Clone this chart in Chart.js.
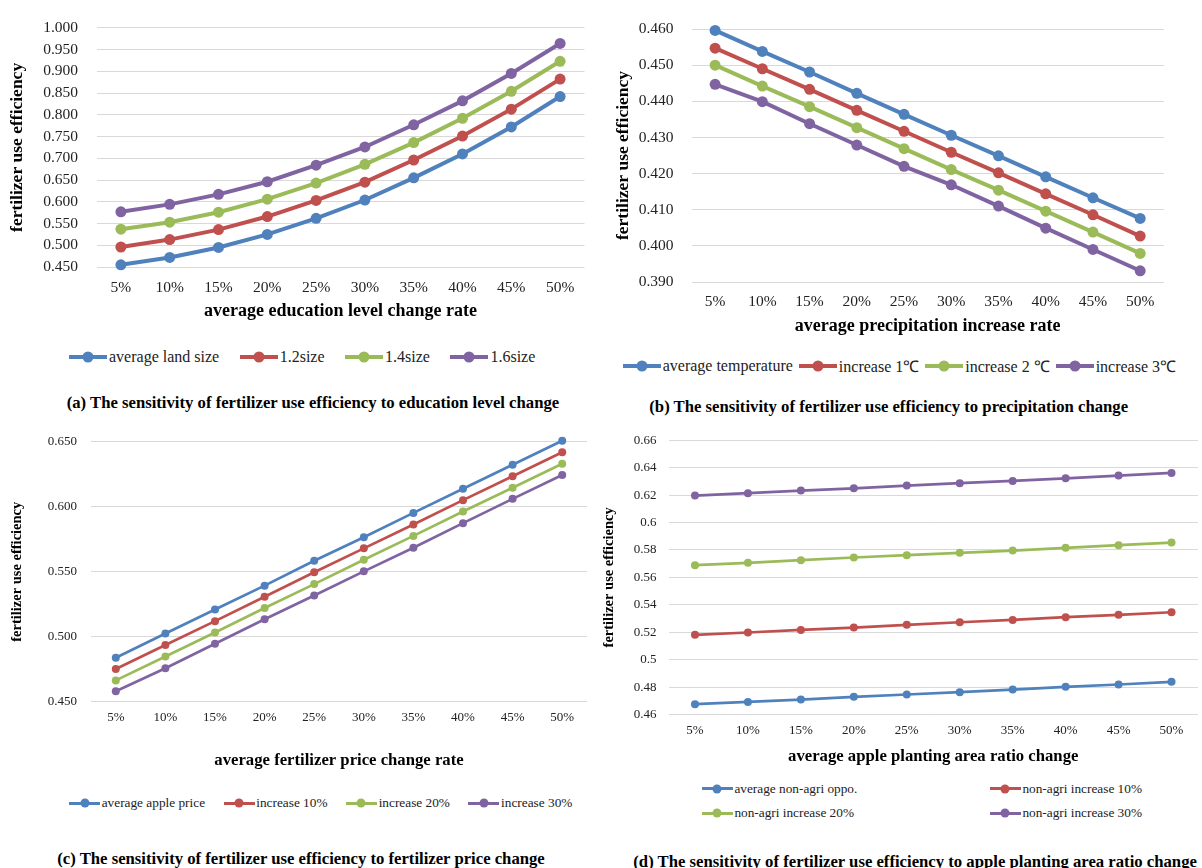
<!DOCTYPE html>
<html>
<head>
<meta charset="utf-8">
<script src="https://cdn.jsdelivr.net/npm/chart.js@4.4.1/dist/chart.umd.min.js"></script>
<style>
  html, body { margin: 0; padding: 0; background: #fff; }
  body { width: 1202px; height: 868px; position: relative; overflow: hidden;
         font-family: "Liberation Serif", "Times New Roman", serif; color: #000; }
  canvas { position: absolute; }
  .legend { position: absolute; display: flex; align-items: center; height: 20px; white-space: nowrap; color: #222; }
  .legend .item { display: flex; align-items: center; }
  .mk { display: inline-block; position: relative; flex: none; }
  .mk i { position: absolute; left: 50%; top: 50%; border-radius: 50%; transform: translate(-50%, -50%); }
  .legend.grid { display: grid; grid-template-columns: 288px 288px; grid-auto-rows: 20px; row-gap: 4.6px; height: auto; }
  .caption { position: absolute; font-weight: bold; white-space: nowrap; line-height: 1; font-size: 16.7px; }
</style>
</head>
<body>
<canvas id="chartA" width="600" height="330" style="left:0;top:0"></canvas>
<canvas id="chartB" width="602" height="345" style="left:600px;top:0"></canvas>
<canvas id="chartC" width="600" height="355" style="left:0;top:420px"></canvas>
<canvas id="chartD" width="602" height="350" style="left:600px;top:420px"></canvas>

<div id="legendA" class="legend" style="left:69px;top:347px;font-size:16px;gap:20.5px"></div>
<div id="legendB" class="legend" style="left:622.7px;top:356px;font-size:16px;gap:6px"></div>
<div id="legendC" class="legend" style="left:69px;top:793.3px;font-size:13.3px;gap:18.5px"></div>
<div id="legendD" class="legend grid" style="left:701.7px;top:778.7px;font-size:13.3px"></div>

<div class="caption" style="left:66.7px;top:394.5px">(a) The sensitivity of fertilizer use efficiency to education level change</div>
<div class="caption" style="left:649.3px;top:398.5px">(b) The sensitivity of fertilizer use efficiency to precipitation change</div>
<div class="caption" style="left:57.3px;top:851px">(c) The sensitivity of fertilizer use efficiency to fertilizer price change</div>
<div class="caption" style="left:633.3px;top:853.5px">(d) The sensitivity of fertilizer use efficiency to apple planting area ratio change</div>

<script>
const serif = '"Liberation Serif", "Times New Roman", serif';
Chart.defaults.font.family = serif;

const rates = ['5%', '10%', '15%', '20%', '25%', '30%', '35%', '40%', '45%', '50%'];
const colors = ['#4F81BD', '#C0504D', '#9BBB59', '#8064A2'];

// (a) education level
const landSize = [0.455, 0.472, 0.495, 0.525, 0.562, 0.604, 0.655, 0.710, 0.772, 0.842];
const size12   = [0.496, 0.513, 0.536, 0.566, 0.603, 0.645, 0.696, 0.751, 0.813, 0.882];
const size14   = [0.537, 0.553, 0.576, 0.606, 0.643, 0.686, 0.736, 0.792, 0.854, 0.923];
const size16   = [0.577, 0.594, 0.617, 0.646, 0.684, 0.726, 0.777, 0.832, 0.895, 0.964];
const namesA = ['average land size', '1.2size', '1.4size', '1.6size'];

// (b) precipitation
const avgTemp = [0.4596, 0.4538, 0.4481, 0.4422, 0.4364, 0.4306, 0.4249, 0.4191, 0.4133, 0.4076];
const temp1   = [0.4547, 0.4490, 0.4433, 0.4375, 0.4317, 0.4259, 0.4202, 0.4144, 0.4086, 0.4027];
const temp2   = [0.4500, 0.4442, 0.4385, 0.4327, 0.4269, 0.4211, 0.4154, 0.4096, 0.4038, 0.3979];
const temp3   = [0.4447, 0.4399, 0.4338, 0.4279, 0.4220, 0.4169, 0.4110, 0.4049, 0.3990, 0.3931];
const namesB = ['average temperature', 'increase 1\u2103', 'increase 2 \u2103', 'increase 3\u2103'];

// (c) fertilizer price
const applePrice = [0.4838, 0.5025, 0.5209, 0.5393, 0.5585, 0.5766, 0.5953, 0.6139, 0.6323, 0.6508];
const price10    = [0.4752, 0.4936, 0.5120, 0.5307, 0.5496, 0.5680, 0.5864, 0.6051, 0.6235, 0.6419];
const price20    = [0.4664, 0.4848, 0.5032, 0.5221, 0.5405, 0.5592, 0.5776, 0.5963, 0.6147, 0.6331];
const price30    = [0.4580, 0.4757, 0.4946, 0.5135, 0.5317, 0.5503, 0.5685, 0.5874, 0.6061, 0.6245];
const namesC = ['average apple price', 'increase 10%', 'increase 20%', 'increase 30%'];

// (d) apple planting area ratio
const nonAgri   = [0.4675, 0.4692, 0.4709, 0.4729, 0.4746, 0.4763, 0.4782, 0.4802, 0.4819, 0.4838];
const nonAgri10 = [0.5181, 0.5198, 0.5217, 0.5234, 0.5254, 0.5273, 0.5290, 0.5310, 0.5327, 0.5346];
const nonAgri20 = [0.5689, 0.5706, 0.5726, 0.5745, 0.5762, 0.5779, 0.5796, 0.5816, 0.5835, 0.5854];
const nonAgri30 = [0.6197, 0.6214, 0.6233, 0.6250, 0.6270, 0.6287, 0.6304, 0.6323, 0.6343, 0.6362];
const namesD = ['average non-agri oppo.', 'non-agri increase 10%', 'non-agri increase 20%', 'non-agri increase 30%'];

// y range: min, max, step
const yRangeA = [0.45, 1.0, 0.05];
const yRangeB = [0.39, 0.46, 0.01];
const yRangeC = [0.45, 0.65, 0.05];
const yRangeD = [0.46, 0.66, 0.02];

function buildChart(id, names, series, yRange, o) {
    return new Chart(document.getElementById(id), {
        type: 'line',
        data: {
            labels: rates,
            datasets: series.map((d, i) => ({
                label: names[i], data: d,
                borderColor: colors[i], backgroundColor: colors[i],
                pointBackgroundColor: colors[i], pointBorderWidth: 0,
                borderWidth: o.lw, pointRadius: o.r, pointHoverRadius: o.r, tension: 0,
                clip: false
            }))
        },
        options: {
            responsive: false,
            animation: false,
            layout: { padding: o.pad },
            plugins: { legend: { display: false }, tooltip: { enabled: false } },
            scales: {
                x: {
                    offset: true,
                    grid: { display: false, drawTicks: false },
                    border: { display: false },
                    ticks: { color: '#222', font: { family: serif, size: o.tick }, padding: o.xtp, maxRotation: 0 },
                    title: { display: true, text: o.xTitle, color: '#000',
                             font: { family: serif, size: o.title, weight: 'bold' }, padding: { top: 0, bottom: o.xtb } },
                    afterFit: s => { s.height = o.xh; }
                },
                y: {
                    min: yRange[0], max: yRange[1],
                    grid: { color: '#d9d9d9', drawTicks: false },
                    border: { display: false },
                    ticks: { stepSize: yRange[2], color: '#222', font: { family: serif, size: o.tick }, padding: o.ytp,
                             callback: o.fmt },
                    title: { display: true, text: 'fertilizer use efficiency', color: '#000',
                             font: { family: serif, size: o.ytitle, weight: 'bold' }, padding: { top: o.ytt, bottom: 0 } },
                    afterFit: s => { s.width = o.yw; }
                }
            }
        }
    });
}

function htmlLegend(chart, elId, mk) {
    const el = document.getElementById(elId);
    chart.data.datasets.forEach(ds => {
        const item = document.createElement('span');
        item.className = 'item';
        item.innerHTML = `<span class="mk" style="width:${mk.w}px;height:${mk.h}px;background:${ds.borderColor};margin-right:${mk.gap}px">` +
            `<i style="width:${mk.d}px;height:${mk.d}px;background:${ds.borderColor}"></i></span>${ds.label}`;
        el.appendChild(item);
    });
}

const fix3 = v => v.toFixed(3);

const chartA = buildChart('chartA', namesA, [landSize, size12, size14, size16], yRangeA, {
    lw: 4, r: 5.5, tick: 15.5, title: 18, ytitle: 17.5, xTitle: 'average education level change rate',
    pad: { top: 20, right: 15.5, left: 0, bottom: 0 }, xh: 63, xtp: 11.4, xtb: 7.5, yw: 96.5, ytp: 18.5, ytt: 7, fmt: fix3
});
const chartB = buildChart('chartB', namesB, [avgTemp, temp1, temp2, temp3], yRangeB, {
    lw: 4, r: 5.5, tick: 15.5, title: 18, ytitle: 17.5, xTitle: 'average precipitation increase rate',
    pad: { top: 29, right: 38.2, left: 0, bottom: 0 }, xh: 63, xtp: 10.4, xtb: 7.5, yw: 91.5, ytp: 18, ytt: 12.5, fmt: fix3
});
const chartC = buildChart('chartC', namesC, [applePrice, price10, price20, price30], yRangeC, {
    lw: 2.7, r: 4, tick: 13, title: 16.7, ytitle: 14.5, xTitle: 'average fertilizer price change rate',
    pad: { top: 17.3, right: 13, left: 0, bottom: 0 }, xh: 73.3, xtp: 8.2, xtb: 4, yw: 91, ytp: 14, ytt: 8.7, fmt: fix3
});
const chartD = buildChart('chartD', namesD, [nonAgri, nonAgri10, nonAgri20, nonAgri30], yRangeD, {
    lw: 2.7, r: 4, tick: 13, title: 16.7, ytitle: 14.5, xTitle: 'average apple planting area ratio change',
    pad: { top: 20.3, right: 2, left: 0, bottom: 0 }, xh: 55.5, xtp: 8.4, xtb: 3.3, yw: 68.5, ytp: 12, ytt: 1,
    fmt: v => String(Number(v.toFixed(2)))
});

htmlLegend(chartA, 'legendA', { w: 38, h: 4, d: 11, gap: 2 });
htmlLegend(chartB, 'legendB', { w: 38, h: 4, d: 11, gap: 2 });
htmlLegend(chartC, 'legendC', { w: 31, h: 3, d: 9, gap: 1.7 });
htmlLegend(chartD, 'legendD', { w: 31, h: 3, d: 9, gap: 1.7 });
</script>
</body>
</html>
